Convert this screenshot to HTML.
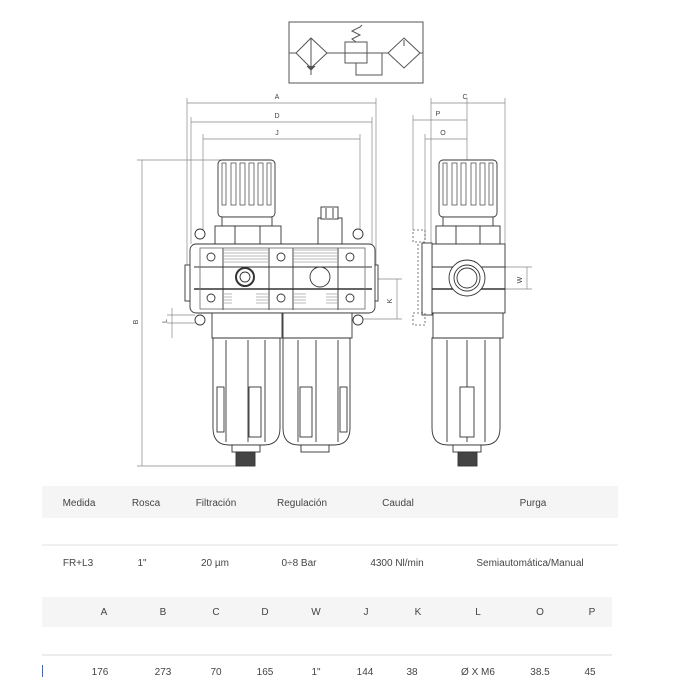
<!DOCTYPE html>
<html><head><meta charset="utf-8"><style>
html,body{margin:0;padding:0;background:#fff;width:700px;height:700px;overflow:hidden}
svg{display:block}
text{font-family:"Liberation Sans",sans-serif}
</style></head><body>
<svg width="700" height="700" viewBox="0 0 700 700" xmlns="http://www.w3.org/2000/svg">
<!-- symbol -->
<g fill="none" stroke="#555" stroke-width="1">
<rect x="289" y="22" width="134" height="61"/>
<line x1="289" y1="53" x2="423" y2="53"/>
<polygon points="311,38 327,53 311,68 296,53" fill="#fff"/>
<line x1="311" y1="38" x2="311" y2="75"/>
<path d="M307,66 L311,70 L315,66" fill="#555"/>
<rect x="345" y="42" width="22" height="21" fill="#fff"/>
<line x1="345" y1="53" x2="367" y2="53"/>
<path d="M356,42 L352,39 L360,35 L352,31 L360,27 L362,25"/>
<path d="M356,63 V75 H382 V53"/>
<polygon points="404,38 420,53 404,68 388,53" fill="#fff"/>
<line x1="404" y1="40" x2="404" y2="46"/>
</g>
<!-- dimension lines -->
<g stroke="#888" stroke-width="0.7" fill="none">
<line x1="187" y1="103" x2="376" y2="103"/><line x1="187" y1="98" x2="187" y2="265"/><line x1="376" y1="98" x2="376" y2="265"/>
<line x1="191" y1="122" x2="372" y2="122"/><line x1="191" y1="117" x2="191" y2="244"/><line x1="372" y1="117" x2="372" y2="244"/>
<line x1="203" y1="139" x2="360" y2="139"/><line x1="203" y1="134" x2="203" y2="232"/><line x1="360" y1="134" x2="360" y2="232"/>
<line x1="431" y1="103" x2="505" y2="103"/><line x1="431" y1="98" x2="431" y2="244"/><line x1="505" y1="98" x2="505" y2="244"/>
<line x1="413" y1="120" x2="467" y2="120"/><line x1="413" y1="115" x2="413" y2="230"/>
<line x1="425" y1="139" x2="467" y2="139"/><line x1="425" y1="134" x2="425" y2="240"/>
<line x1="467" y1="98" x2="467" y2="297"/>
<line x1="142" y1="160" x2="142" y2="466"/><line x1="137" y1="160" x2="222" y2="160"/><line x1="137" y1="466" x2="240" y2="466"/>
<line x1="172" y1="308" x2="172" y2="338"/><line x1="167" y1="315" x2="195" y2="315"/><line x1="167" y1="323" x2="195" y2="323"/>
<line x1="397" y1="279" x2="397" y2="319"/><line x1="340" y1="279" x2="402" y2="279"/><line x1="362" y1="319" x2="402" y2="319"/>
<line x1="527" y1="267" x2="527" y2="289"/><line x1="500" y1="267" x2="532" y2="267"/><line x1="500" y1="289" x2="532" y2="289"/>
</g>
<g font-size="7" fill="#444" text-anchor="middle">
<text x="277" y="99">A</text><text x="277" y="118">D</text><text x="277" y="135">J</text>
<text x="465" y="99">C</text><text x="438" y="116">P</text><text x="443" y="135">O</text>
<text x="138" y="322" transform="rotate(-90 138 322)">B</text>
<text x="167" y="321" transform="rotate(-90 167 321)">L</text>
<text x="392" y="301" transform="rotate(-90 392 301)">K</text>
<text x="522" y="280" transform="rotate(-90 522 280)">W</text>
</g>
<!-- left assembly -->
<g fill="#fff" stroke="#333" stroke-width="0.9">
<rect x="218" y="160" width="57" height="57" rx="4"/>
<g stroke="#555" stroke-width="0.8">
<rect x="222" y="163" width="4" height="42"/><rect x="231" y="163" width="5" height="42"/><rect x="240" y="163" width="5" height="42"/><rect x="249" y="163" width="5" height="42"/><rect x="258" y="163" width="5" height="42"/><rect x="267" y="163" width="4" height="42"/>
</g>
<rect x="222" y="217" width="50" height="9"/>
<rect x="215" y="226" width="66" height="18"/>
<line x1="235" y1="226" x2="235" y2="244"/><line x1="260" y1="226" x2="260" y2="244"/>
<rect x="318" y="218" width="24" height="26"/>
<rect x="321" y="207" width="17" height="12"/>
<line x1="326" y1="208" x2="326" y2="218"/><line x1="333" y1="208" x2="333" y2="218"/>
<rect x="185" y="265" width="6" height="36"/><rect x="372" y="265" width="6" height="36"/>
<rect x="190" y="244" width="185" height="69" rx="6"/>
<g stroke="#777" stroke-width="0.6">
<path d="M224,250H268M224,253H268M224,256H268M224,259H268M224,262H268M294,250H337M294,253H337M294,256H337M294,259H337M294,262H337"/>
<path d="M224,294H232M224,297H232M224,300H232M224,303H232M256,294H268M256,297H268M256,300H268M256,303H268M294,294H306M294,297H306M294,300H306M294,303H306M326,294H337M326,297H337M326,300H337M326,303H337"/>
</g>
<line x1="194" y1="267" x2="372" y2="267"/><line x1="194" y1="289" x2="372" y2="289" stroke-width="1.6"/>
<line x1="223" y1="248" x2="223" y2="310"/><line x1="269" y1="248" x2="269" y2="310"/><line x1="293" y1="248" x2="293" y2="310"/><line x1="338" y1="248" x2="338" y2="310"/>
<rect x="200" y="248" width="165" height="61" fill="none" stroke="#777"/>
<circle cx="245" cy="277" r="9" stroke-width="2"/><circle cx="245" cy="277" r="5"/>
<circle cx="320" cy="277" r="10"/>
<circle cx="211" cy="257" r="4"/><circle cx="281" cy="257" r="4"/><circle cx="350" cy="257" r="4"/>
<circle cx="211" cy="298" r="4"/><circle cx="281" cy="298" r="4"/><circle cx="350" cy="298" r="4"/>
<circle cx="200" cy="234" r="5"/><circle cx="358" cy="234" r="5"/><circle cx="200" cy="320" r="5"/><circle cx="358" cy="320" r="5"/>
<rect x="212" y="313" width="70" height="25"/><rect x="283" y="313" width="69" height="25"/>
<path d="M213,338 H280 V428 Q280,445 264,445 H229 Q213,445 213,428 Z"/>
<path d="M283,338 H350 V428 Q350,445 334,445 H299 Q283,445 283,428 Z"/>
<line x1="226" y1="340" x2="226" y2="442"/><line x1="248" y1="340" x2="248" y2="442"/><line x1="265" y1="340" x2="265" y2="442"/>
<line x1="298" y1="340" x2="298" y2="442"/><line x1="316" y1="340" x2="316" y2="442"/><line x1="338" y1="340" x2="338" y2="442"/>
<rect x="249" y="387" width="12" height="50"/><rect x="300" y="387" width="12" height="50"/>
<rect x="217" y="387" width="7" height="45"/><rect x="340" y="387" width="7" height="45"/>
<rect x="232" y="445" width="28" height="7"/><rect x="301" y="445" width="28" height="7"/>
<rect x="236" y="452" width="19" height="14" fill="#444"/>
</g>
<!-- right view -->
<g fill="#fff" stroke="#333" stroke-width="0.9">
<rect x="439" y="160" width="58" height="57" rx="4"/>
<g stroke="#555" stroke-width="0.8">
<rect x="443" y="163" width="4" height="42"/><rect x="452" y="163" width="5" height="42"/><rect x="461" y="163" width="5" height="42"/><rect x="471" y="163" width="5" height="42"/><rect x="480" y="163" width="5" height="42"/><rect x="489" y="163" width="4" height="42"/>
</g>
<rect x="443" y="217" width="50" height="9"/>
<rect x="436" y="226" width="64" height="18"/>
<line x1="456" y1="226" x2="456" y2="244"/><line x1="480" y1="226" x2="480" y2="244"/>
<rect x="432" y="244" width="73" height="69"/>
<rect x="433" y="313" width="70" height="25"/>
<rect x="422" y="243" width="10" height="72"/>
<line x1="432" y1="267" x2="505" y2="267"/><line x1="432" y1="289" x2="505" y2="289" stroke-width="1.6"/>
<circle cx="467" cy="278" r="18"/><circle cx="467" cy="278" r="13"/><circle cx="467" cy="278" r="10"/>
<path d="M432,338 H500 V428 Q500,445 484,445 H448 Q432,445 432,428 Z"/>
<line x1="447" y1="340" x2="447" y2="442"/><line x1="467" y1="340" x2="467" y2="442"/><line x1="485" y1="340" x2="485" y2="442"/>
<rect x="460" y="387" width="14" height="50"/>
<rect x="453" y="445" width="28" height="7"/>
<rect x="458" y="452" width="19" height="14" fill="#444"/>
</g>
<g fill="none" stroke="#555" stroke-width="0.8" stroke-dasharray="2,2">
<rect x="413" y="230" width="12" height="12"/><rect x="413" y="313" width="12" height="12"/>
<line x1="418" y1="244" x2="418" y2="312"/>
</g>
<!-- table -->
<rect x="42" y="486" width="576" height="32" fill="#f5f5f5"/>
<line x1="42" y1="545" x2="618" y2="545" stroke="#e2e2e2"/>
<rect x="42" y="597" width="570" height="30" fill="#f5f5f5"/>
<line x1="42" y1="655" x2="612" y2="655" stroke="#d8d8d8"/>
<rect x="42" y="665" width="1" height="12" fill="#4466aa"/>
<g font-size="10" fill="#444" text-anchor="middle">
<text x="79" y="506">Medida</text><text x="146" y="506">Rosca</text><text x="216" y="506">Filtración</text><text x="302" y="506">Regulación</text><text x="398" y="506">Caudal</text><text x="533" y="506">Purga</text>
<text x="78" y="566">FR+L3</text><text x="142" y="566">1"</text><text x="215" y="566">20 µm</text><text x="299" y="566">0÷8 Bar</text><text x="397" y="566">4300 Nl/min</text><text x="530" y="566">Semiautomática/Manual</text>
<text x="104" y="615">A</text><text x="163" y="615">B</text><text x="216" y="615">C</text><text x="265" y="615">D</text><text x="316" y="615">W</text><text x="366" y="615">J</text><text x="418" y="615">K</text><text x="478" y="615">L</text><text x="540" y="615">O</text><text x="592" y="615">P</text>
<text x="100" y="675">176</text><text x="163" y="675">273</text><text x="216" y="675">70</text><text x="265" y="675">165</text><text x="316" y="675">1"</text><text x="365" y="675">144</text><text x="412" y="675">38</text><text x="478" y="675">Ø X M6</text><text x="540" y="675">38.5</text><text x="590" y="675">45</text>
</g>
</svg>
</body></html>
